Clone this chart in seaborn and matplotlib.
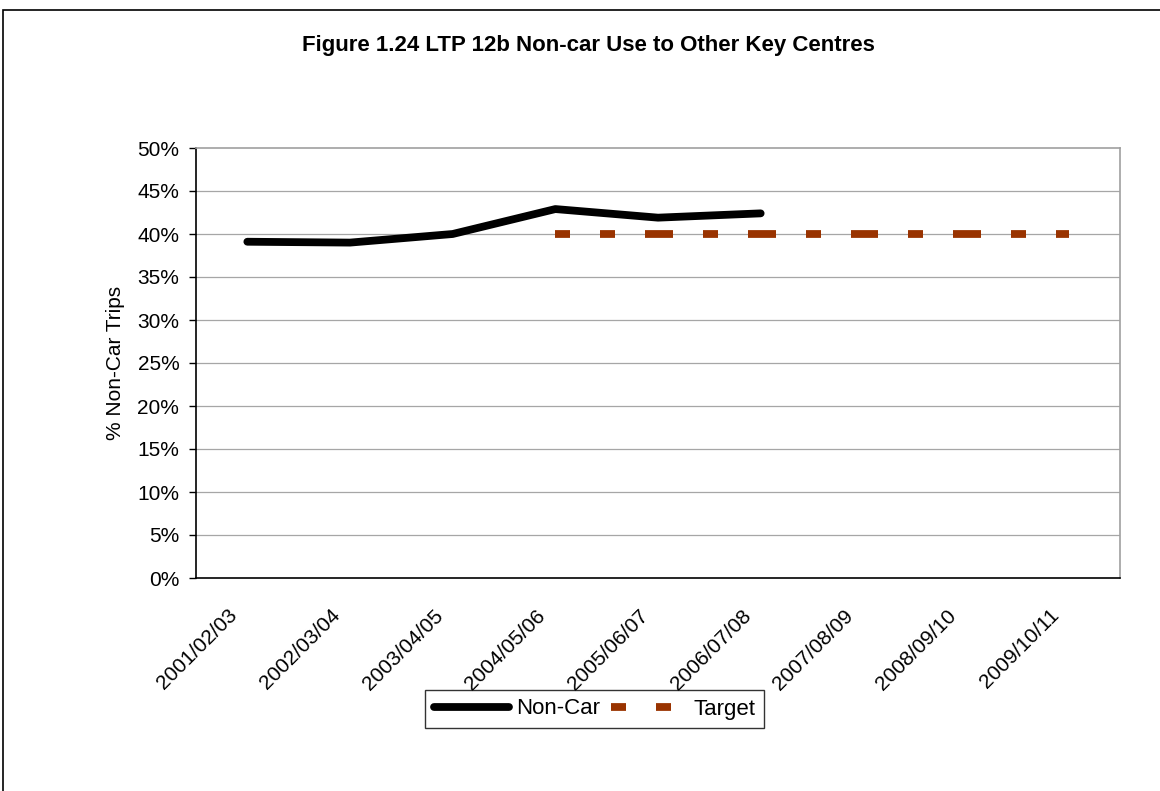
import numpy as np
import pandas as pd
import matplotlib
matplotlib.use("Agg")
import matplotlib.pyplot as plt
from matplotlib.lines import Line2D
from matplotlib.patches import Rectangle
import matplotlib.transforms as mtransforms
import seaborn as sns

# Data
years = ["2001/02/03", "2002/03/04", "2003/04/05", "2004/05/06", "2005/06/07",
         "2006/07/08", "2007/08/09", "2008/09/10", "2009/10/11"]
non_car = [39.1, 39.0, 40.0, 42.9, 41.9, 42.4]
target_years = years[3:]
target = [40, 40, 40, 40, 40, 40]
y_ticks = [0, 5, 10, 15, 20, 25, 30, 35, 40, 45, 50]

sns.set_style("white")
plt.rcParams["font.family"] = ["Liberation Sans", "DejaVu Sans"]
plt.rcParams.update({"text.color": "black", "axes.labelcolor": "black",
                     "xtick.color": "black", "ytick.color": "black"})

FS = 15
fig = plt.figure(figsize=(11.6, 7.91), dpi=100)
ax = fig.add_axes([196 / 1160, 1 - 578 / 791, 924 / 1160, 430 / 791])

pos = {c: i for i, c in enumerate(years)}
df_nc = pd.DataFrame({"x": [pos[c] for c in years[:len(non_car)]], "y": non_car})
df_tg = pd.DataFrame({"x": [pos[c] for c in target_years], "y": target})

# gridlines
for t in y_ticks[1:-1]:
    ax.axhline(t, color="#a6a6a6", lw=0.9, zorder=0)

LW = 5.6
LW_PX = LW * 100 / 72
DASH = (15 / LW_PX, 30 / LW_PX)

# Non-car line
sns.lineplot(data=df_nc, x="x", y="y", ax=ax, color="black", lw=LW,
             solid_capstyle="round", solid_joinstyle="round", zorder=3)

# Target dashed line, dash pattern restarting at each point
brown = "#993300"
for i in range(len(df_tg) - 1):
    seg = df_tg.iloc[i:i + 2]
    sns.lineplot(data=seg, x="x", y="y", ax=ax, color=brown, lw=LW,
                 dashes=False, zorder=2)
    ax.lines[-1].set_dashes(DASH)
    ax.lines[-1].set_dash_capstyle("butt")

ax.set_xlim(-0.5, len(years) - 0.5)
ax.set_ylim(0, 50)
ax.set_yticks(y_ticks)
ax.set_yticklabels([f"{t}%" for t in y_ticks], fontsize=FS)
ax.set_xticks(range(len(years)))
ax.set_xticklabels(years, fontsize=FS, rotation=45, ha="right", va="top",
                   rotation_mode="default")
ax.set_xticks(np.arange(-0.5, len(years), 1), minor=True)
ax.tick_params(axis="x", which="major", length=0, pad=20)
ax.tick_params(axis="x", which="minor", length=5, width=1, color="black", direction="out")
ax.tick_params(axis="y", length=5, width=1, color="black", direction="out", left=True, pad=7)
ax.set_xlabel("")
ax.set_ylabel("% Non-Car Trips", fontsize=FS, labelpad=9)

for side in ["left", "bottom"]:
    ax.spines[side].set_color("black")
    ax.spines[side].set_linewidth(1.2)
for side in ["top", "right"]:
    ax.spines[side].set_visible(True)
    ax.spines[side].set_color("#a0a0a0")
    ax.spines[side].set_linewidth(1.2)

# nudge rotated category labels
offset = mtransforms.ScaledTranslation(-6 / 100, 0, fig.dpi_scale_trans)
for lab in ax.get_xticklabels():
    lab.set_transform(lab.get_transform() + offset)

fig.text(588 / 1160, 1 - 45 / 791, "Figure 1.24 LTP 12b Non-car Use to Other Key Centres",
         ha="center", va="center", fontsize=16, fontweight="bold")

handles = [
    Line2D([], [], color="black", lw=LW, solid_capstyle="round"),
    Line2D([], [], color=brown, lw=LW, dashes=DASH, dash_capstyle="butt"),
]
leg = fig.legend(handles, ["Non-Car", "Target"], loc="center",
                 bbox_to_anchor=(594.5 / 1160, 1 - 709 / 791), ncol=2, fontsize=16,
                 frameon=True, fancybox=False, handlelength=3.4, handletextpad=0.3,
                 columnspacing=0.5, borderpad=0.4, borderaxespad=0)
leg.get_frame().set_edgecolor("black")
leg.get_frame().set_linewidth(1.0)

# outer chart border
fig.patches.append(Rectangle((3 / 1160, -0.05), 1.2, 1 - 10 / 791 + 0.05,
                             transform=fig.transFigure, fill=False,
                             edgecolor="black", lw=1.2, zorder=0))

fig.savefig("out.png", dpi=100)
